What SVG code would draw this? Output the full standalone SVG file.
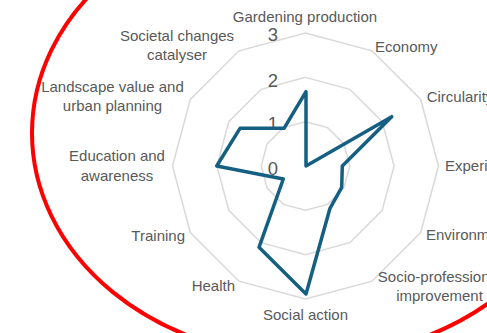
<svg xmlns="http://www.w3.org/2000/svg" width="487" height="333" viewBox="0 0 487 333">
  <style>
    .ring { fill: none; stroke: #d9d9d9; stroke-width: 1.5; }
    .cat { font-family: "Liberation Sans", Arial, sans-serif; font-size: 15px; fill: #595959; }
    .tick { font-family: "Liberation Sans", Arial, sans-serif; font-size: 18.5px; fill: #595959; text-anchor: middle; }
    .series { fill: none; stroke: #156082; stroke-width: 3.5; stroke-linejoin: round; }
  </style>
  <rect x="0" y="0" width="487" height="333" fill="#ffffff"/>
  <g id="grid">
    <polygon class="ring" points="305.5,121.7 327.65,127.64 343.86,143.85 349.8,166 343.86,188.15 327.65,204.36 305.5,210.3 283.35,204.36 267.14,188.15 261.2,166 267.14,143.85 283.35,127.64"/>
    <polygon class="ring" points="305.5,77.4 349.8,89.3 382.2,121.7 394.1,166 382.2,210.3 349.8,242.7 305.5,254.6 261.2,242.7 228.8,210.3 216.9,166 228.8,121.7 261.2,89.3"/>
    <polygon class="ring" points="305.5,33 372,50.8 420.7,99.5 438.5,166 420.7,232.5 372,281.2 305.5,299 239,281.2 190.3,232.5 172.5,166 190.3,99.5 239,50.8"/>
  </g>
  <g id="axis-values">
    <text class="tick" x="273" y="40.7">3</text>
    <text class="tick" x="273" y="86.7">2</text>
    <text class="tick" x="273" y="130">1</text>
    <text class="tick" x="273" y="175">0</text>
  </g>
  <g id="connectors">
    <polygon id="series" class="series" points="306,91.7 306,166 391.7,116.7 342.3,166 341.7,187.3 330,208.3 306,294 259,247.3 283.3,179 216.7,166 240,128.3 284,128.3"/>
  </g>
  <g id="labels">
    <g id="gardening"><text class="cat" x="305" y="22" text-anchor="middle">Gardening production</text></g>
    <g id="economy"><text class="cat" x="375" y="52">Economy</text></g>
    <g id="circularity"><text class="cat" x="426.7" y="101.7">Circularity</text></g>
    <g id="experimentation"><text class="cat" x="445" y="170.7">Experimentation</text></g>
    <g id="environment"><text class="cat" x="426" y="240">Environment</text></g>
    <g id="socio-professional"><text class="cat" x="439.5" y="281.7" text-anchor="middle">Socio-professional</text><text class="cat" x="439.5" y="300.5" text-anchor="middle">improvement</text></g>
    <g id="social-action"><text class="cat" x="305.5" y="319.5" text-anchor="middle">Social action</text></g>
    <g id="health"><text class="cat" x="235" y="290.7" text-anchor="end">Health</text></g>
    <g id="training"><text class="cat" x="185" y="240.7" text-anchor="end">Training</text></g>
    <g id="education"><text class="cat" x="117" y="161" text-anchor="middle">Education and</text><text class="cat" x="117" y="180.7" text-anchor="middle">awareness</text></g>
    <g id="landscape"><text class="cat" x="112.5" y="91.7" text-anchor="middle">Landscape value and</text><text class="cat" x="112.5" y="111" text-anchor="middle">urban planning</text></g>
    <g id="societal"><text class="cat" x="177" y="40.7" text-anchor="middle">Societal changes</text><text class="cat" x="177" y="60" text-anchor="middle">catalyser</text></g>
  </g>
  <g id="highlight">
    <ellipse cx="308" cy="133" rx="276" ry="225" fill="none" stroke="#ff0000" stroke-width="4"/>
  </g>
</svg>
